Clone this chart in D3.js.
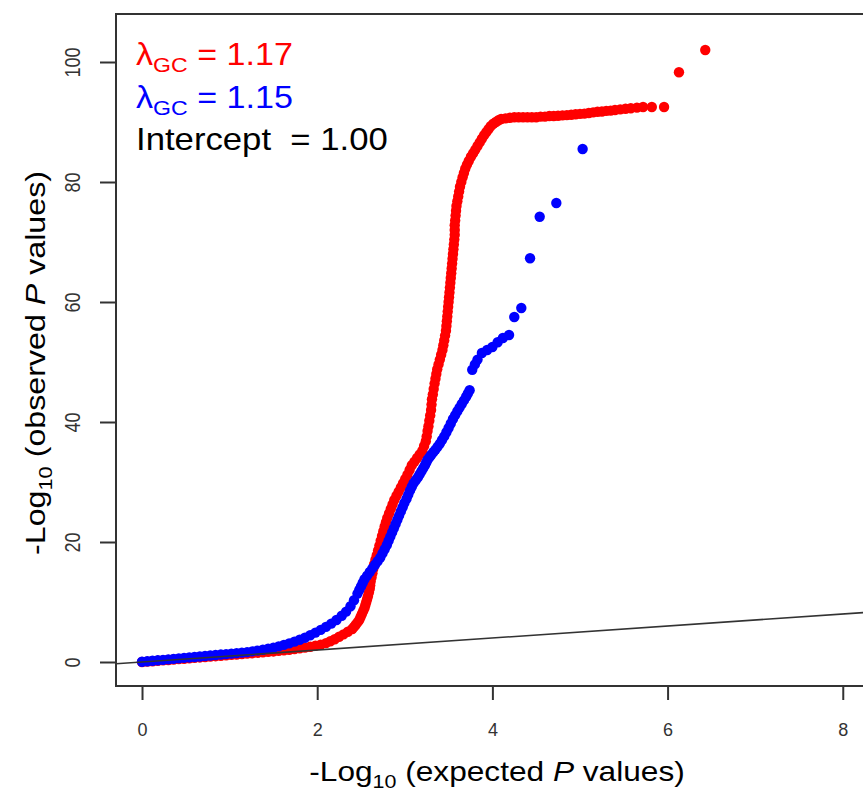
<!DOCTYPE html>
<html>
<head>
<meta charset="utf-8">
<script src="https://cdn.jsdelivr.net/npm/d3@7"></script>
<style>
  html, body { margin: 0; padding: 0; background: #fff; }
  svg { display: block; font-family: "Liberation Sans", Arial, sans-serif; }
</style>
</head>
<body>
<svg id="chart" width="863" height="792"></svg>
<script>
// QQ plot: -log10 expected vs observed P, two studies + y = x reference
const xTicks = [0, 2, 4, 6, 8];
const yTicks = [0, 20, 40, 60, 80, 100];

// red series [expected, observed]
const redPts = [
  [0.00,0.00],[0.06,0.06],[0.12,0.13],[0.18,0.20],[0.24,0.27],[0.30,0.34],[0.36,0.41],[0.42,0.48],[0.48,0.55],[0.54,0.62],
  [0.60,0.69],[0.66,0.76],[0.72,0.83],[0.78,0.90],[0.84,0.97],[0.90,1.04],[0.96,1.11],[1.02,1.18],[1.08,1.25],[1.14,1.32],
  [1.20,1.39],[1.26,1.46],[1.32,1.53],[1.38,1.60],[1.44,1.68],[1.50,1.76],[1.56,1.85],[1.62,1.95],[1.68,2.05],[1.74,2.15],
  [1.80,2.27],[1.86,2.40],[1.92,2.55],[1.98,2.72],[2.04,2.90],[2.10,3.15],[2.15,3.45],[2.20,3.80],[2.25,4.20],[2.30,4.60],
  [2.35,5.05],[2.40,5.50],[2.42,5.85],[2.44,6.2],[2.46,6.6],[2.48,7.0],[2.495,7.5],[2.51,8.0],[2.525,8.5],[2.54,9.0],
  [2.55,9.5],[2.56,10.0],[2.57,10.5],[2.58,11.0],[2.59,11.6],[2.60,12.2],[2.605,12.8],[2.61,13.4],[2.62,14.1],[2.63,14.8],
  [2.64,15.55],[2.65,16.3],[2.665,17.05],[2.68,17.8],[2.695,18.6],[2.71,19.4],[2.725,20.2],[2.74,21.0],[2.755,21.8],[2.77,22.6],
  [2.785,23.3],[2.80,24.0],[2.82,24.75],[2.84,25.5],[2.86,26.25],[2.88,27.0],[2.905,27.7],[2.93,28.4],[2.955,29.1],[2.98,29.8],
  [3.005,30.5],[3.03,31.2],[3.055,32.0],[3.08,32.8],[3.11,33.4],[3.14,34.0],[3.17,34.6],[3.20,35.2],[3.22,36.0],[3.24,36.8],
  [3.25,37.6],[3.26,38.5],[3.27,39.3],[3.28,40.2],[3.29,41.1],[3.30,42.0],[3.305,42.9],[3.31,43.8],[3.32,44.6],[3.33,45.5],
  [3.34,46.4],[3.35,47.2],[3.36,48.0],[3.37,48.8],[3.385,49.6],[3.40,50.4],[3.415,51.2],[3.43,52.0],[3.44,52.8],[3.45,53.6],
  [3.46,54.4],[3.47,55.2],[3.475,56.0],[3.48,56.8],[3.485,57.6],[3.49,58.4],[3.495,59.2],[3.50,60.0],[3.505,60.8],[3.51,61.6],
  [3.515,62.4],[3.52,63.2],[3.525,64.0],[3.53,64.8],[3.535,65.6],[3.54,66.4],[3.545,67.2],[3.55,68.0],[3.555,68.8],[3.56,69.6],
  [3.565,70.4],[3.57,71.2],[3.57,72.0],[3.57,72.8],[3.575,73.6],[3.58,74.4],[3.585,75.2],[3.59,76.0],[3.60,76.8],[3.61,77.6],
  [3.62,78.4],[3.63,79.2],[3.645,80.0],[3.66,80.8],[3.675,81.5],[3.69,82.2],[3.71,82.9],[3.73,83.5],[3.755,84.2],[3.78,84.8],
  [3.805,85.4],[3.83,86.0],[3.855,86.6],[3.88,87.2],[3.905,87.8],[3.93,88.3],[3.955,88.8],[3.98,89.3],[4.01,89.7],[4.04,90.0],
  [4.07,90.3],[4.10,90.5],[4.15,90.6],[4.20,90.7],[4.25,90.8],[4.30,90.8],[4.35,90.8],[4.40,90.8],[4.45,90.8],[4.50,90.8],
  [4.55,90.9],[4.60,90.9],[4.65,91.0],[4.70,91.0],[4.75,91.05],[4.80,91.1],[4.85,91.15],[4.90,91.2],[4.95,91.3],[5.00,91.35],
  [5.05,91.4],[5.10,91.5],[5.15,91.6],[5.20,91.7],[5.25,91.75],[5.30,91.85],[5.35,91.9],[5.40,92.0],[5.46,92.1],[5.52,92.2],
  [5.58,92.3],[5.65,92.4],[5.72,92.5],[5.82,92.5],[5.96,92.5],[6.13,98.3],[6.43,102.0]
];

// blue series [expected, observed]
const bluePts = [
  [0.00,0.05],[0.06,0.12],[0.12,0.20],[0.18,0.28],[0.24,0.36],[0.30,0.44],[0.36,0.52],[0.42,0.60],[0.48,0.68],[0.54,0.76],
  [0.60,0.84],[0.66,0.92],[0.72,1.00],[0.78,1.08],[0.84,1.16],[0.90,1.24],[0.96,1.32],[1.02,1.40],[1.08,1.48],[1.14,1.56],
  [1.20,1.65],[1.26,1.77],[1.32,1.90],[1.38,2.05],[1.44,2.20],[1.50,2.40],[1.56,2.60],[1.62,2.85],[1.68,3.10],[1.74,3.40],
  [1.80,3.70],[1.86,4.05],[1.92,4.45],[1.98,4.90],[2.04,5.35],[2.10,5.85],[2.16,6.40],[2.22,7.00],[2.28,7.70],[2.33,8.40],
  [2.38,9.3],[2.42,10.3],[2.46,11.4],[2.48,12.0],[2.50,12.6],[2.52,13.2],[2.54,13.8],[2.57,14.4],[2.60,15.0],[2.63,15.6],
  [2.66,16.2],[2.69,16.8],[2.72,17.4],[2.745,18.1],[2.77,18.8],[2.795,19.5],[2.815,20.2],[2.835,20.9],[2.855,21.6],[2.875,22.3],
  [2.895,23.0],[2.915,23.7],[2.935,24.4],[2.955,25.1],[2.975,25.8],[2.995,26.5],[3.02,27.2],[3.04,27.9],[3.06,28.6],[3.08,29.2],
  [3.10,29.8],[3.125,30.3],[3.15,30.8],[3.17,31.3],[3.19,31.8],[3.21,32.3],[3.23,32.8],[3.245,33.25],[3.26,33.7],[3.28,34.1],
  [3.30,34.5],[3.325,34.95],[3.35,35.4],[3.375,35.9],[3.40,36.4],[3.425,37.0],[3.45,37.6],[3.475,38.3],[3.50,39.0],[3.525,39.75],
  [3.55,40.5],[3.575,41.15],[3.60,41.8],[3.625,42.4],[3.65,43.0],[3.675,43.6],[3.70,44.2],[3.72,44.75],[3.74,45.3],[3.77,48.7],
  [3.80,49.6],[3.83,50.4],[3.88,51.5],[3.94,52.0],[4.00,52.5],[4.06,53.3],[4.12,54.0],[4.19,54.5],[4.25,57.5],[4.33,59.0],
  [4.43,67.3],[4.54,74.2],[4.73,76.5],[5.03,85.5]
];

const labels = [
  { lam: 'λ', sub: 'GC', rest: ' = 1.17', color: '#ff0000' },
  { lam: 'λ', sub: 'GC', rest: ' = 1.15', color: '#0000ff' }
];

const svg = d3.select('#chart');
const L = 116, T = 14, B = 686, R = 880;
const x = d3.scaleLinear().domain([-0.297, 8.231]).range([L, 863]);
const y = d3.scaleLinear().domain([-4, 108]).range([B, T]);

svg.append('defs').append('clipPath').attr('id', 'plotClip')
  .append('rect').attr('x', L).attr('y', T).attr('width', R - L).attr('height', B - T);

const plot = svg.append('g').attr('clip-path', 'url(#plotClip)');
plot.append('g').selectAll('circle').data(redPts).join('circle')
  .attr('cx', d => x(d[0])).attr('cy', d => y(d[1])).attr('r', 5.2).attr('fill', '#ff0000');
plot.append('g').selectAll('circle').data(bluePts).join('circle')
  .attr('cx', d => x(d[0])).attr('cy', d => y(d[1])).attr('r', 5.2).attr('fill', '#0000ff');
// y = x reference line
plot.append('line').attr('x1', x(-0.297)).attr('y1', y(-0.297)).attr('x2', x(8.3)).attr('y2', y(8.3))
  .attr('stroke', '#333').attr('stroke-width', 1.6);

// frame (right edge falls outside the picture)
svg.append('rect').attr('x', L).attr('y', T).attr('width', R - L).attr('height', B - T)
  .attr('fill', 'none').attr('stroke', '#333').attr('stroke-width', 2);

// axes
const xAxis = svg.append('g').attr('transform', `translate(0,${B})`)
  .call(d3.axisBottom(x).tickValues(xTicks).tickSize(14).tickPadding(23).tickFormat(d3.format('d')));
const yAxis = svg.append('g').attr('transform', `translate(${L},0)`)
  .call(d3.axisLeft(y).tickValues(yTicks).tickSize(16).tickFormat(d3.format('d')));
[xAxis, yAxis].forEach(a => {
  a.select('.domain').remove();
  a.selectAll('.tick line').attr('stroke', '#333').attr('stroke-width', 2);
  a.selectAll('.tick text').attr('fill', '#333').attr('font-size', 18)
    .attr('font-family', '"Liberation Sans", Arial, sans-serif');
});
yAxis.selectAll('.tick text').attr('x', null).attr('text-anchor', 'middle')
  .attr('transform', 'translate(-44,0) rotate(-90) scale(1,1.25)').attr('dy', '0.35em');

// axis titles
const xt = svg.append('g').attr('transform', 'translate(497,781) scale(1.13,1)')
  .append('text').attr('text-anchor', 'middle').attr('font-size', 28).attr('fill', '#000');
xt.append('tspan').text('-Log');
xt.append('tspan').attr('font-size', 19).attr('dy', 7).text('10');
xt.append('tspan').attr('dy', -7).text(' (expected ');
xt.append('tspan').attr('font-style', 'italic').text('P');
xt.append('tspan').text(' values)');

const yt = svg.append('g').attr('transform', 'translate(45,363) rotate(-90) scale(1.15,1)')
  .append('text').attr('text-anchor', 'middle').attr('font-size', 28).attr('fill', '#000');
yt.append('tspan').text('-Log');
yt.append('tspan').attr('font-size', 19).attr('dy', 7).text('10');
yt.append('tspan').attr('dy', -7).text(' (observed ');
yt.append('tspan').attr('font-style', 'italic').text('P');
yt.append('tspan').text(' values)');

// annotations
labels.forEach((d, i) => {
  const t = svg.append('g').attr('transform', `translate(136,${65 + i * 43}) scale(1.1,1)`)
    .append('text').attr('font-size', 31).attr('fill', d.color);
  t.append('tspan').text(d.lam);
  t.append('tspan').attr('font-size', 21).attr('dy', 7).text(d.sub);
  t.append('tspan').attr('dy', -7).text(d.rest);
});
svg.append('g').attr('transform', 'translate(136,150) scale(1.12,1)')
  .append('text').attr('font-size', 31).attr('fill', '#000')
  .style('white-space', 'pre').text('Intercept  = 1.00');
</script>
</body>
</html>
